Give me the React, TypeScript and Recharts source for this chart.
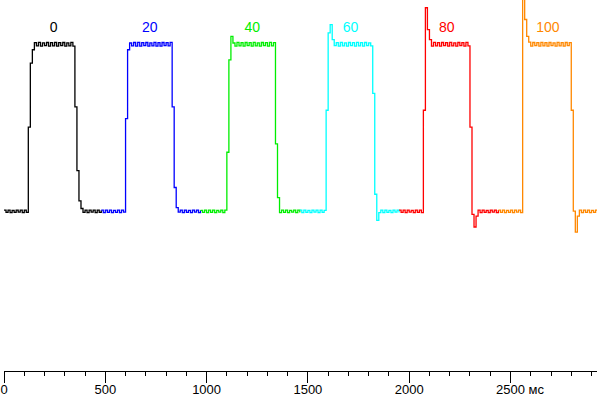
import React from 'react';
import { LineChart, Line, XAxis, YAxis, ReferenceDot } from 'recharts';

// response of one pixel, sampled every 10 ms, brightness in % (0 = start level, 100 = end level)
const SAMPLE_MS = 10;
const pulseStarts = [0, 480, 970, 1460, 1950, 2440];
const pulseLabels = ['0', '20', '40', '60', '80', '100'];
const pulseColors = ['#000000', '#0000ff', '#00ee00', '#00ffff', '#ff0000', '#ff8800'];

const black = [
  0.5, -0.8, 0.6, -0.9, 0.4, -0.8, 0.6, -0.7, 0.5, -0.9, 0.6, -0.8,
  50, 88, 96,
  100.2, 98.3, 100.4, 98.1, 100.1, 98.4, 100.3, 98.2, 100.2, 98.3, 100.4, 98.1, 100.2, 98.4, 100.3, 98.2, 100.1, 98.3, 100.4, 98.2,
  62, 24, 6, 1.5,
  -0.8, 0.6, -0.9, 0.5, -0.7, 0.6, -0.9, 0.5, -0.8, 0.4,
];
const blue = [
  0.5, -0.9, 0.6, -0.8, 0.5, -0.9, 0.4, -0.8, 0.6, -0.9, 0.5, -0.7,
  55, 96, 100,
  98.3, 100.3, 98.2, 100.4, 98.1, 100.2, 98.4, 100.3, 98.2, 100.1, 98.3, 100.4, 98.2, 100.2, 98.1, 100.3, 98.4, 100.2, 98.3, 100.4,
  62, 14, 2,
  -0.6, 0.5, -0.9, 0.6, -0.8, 0.4, -0.9, 0.6, -0.7, 0.5, -0.9, 0.4,
];
const green = [
  0.4, -0.8, 0.6, -0.9, 0.5, -0.8, 0.6, -0.9, 0.4, -0.7, 0.6, -0.9, 0.5,
  35, 90, 104, 100,
  98.2, 100.4, 98.3, 100.2, 98.1, 100.3, 98.4, 100.2, 98.2, 100.4, 98.3, 100.1, 98.2, 100.3, 98.4, 100.2, 98.1, 100.4, 98.3, 100.2,
  40, 8,
  -0.9, 0.5, -0.8, 0.6, -0.9, 0.4, -0.7, 0.6, -0.9, 0.5, -0.8,
];
const cyan = [
  0.5, -0.9, 0.6, -0.8, 0.4, -0.9, 0.6, -0.7, 0.5, -0.9, 0.6, -0.8, 0.4,
  60, 106, 111, 102,
  98.4, 100.2, 98.2, 100.4, 98.3, 100.1, 98.2, 100.3, 98.4, 100.2, 98.1, 100.4, 98.3, 100.2, 98.2, 100.3, 98.4, 100.1, 98.3,
  70, 10, -5.5, -1,
  0.5, -0.9, 0.6, -0.8, 0.4, -0.9, 0.6, -0.7, 0.5, -0.8,
];
const red = [
  0.6, -0.8, 0.5, -0.9, 0.6, -0.7, 0.4, -0.9, 0.6, -0.8, 0.5, -0.9,
  60, 121, 108, 102,
  98.2, 100.4, 98.3, 100.2, 98.1, 100.3, 98.4, 100.2, 98.2, 100.4, 98.3, 100.1, 98.2, 100.3, 98.4, 100.2, 98.1, 100.4, 98.3,
  50, -2, -9.5, -3,
  0.5, -0.9, 0.6, -0.8, 0.4, -0.9, 0.6, -0.7, 0.5, -0.9, 0.6,
];
const orange = [
  0.5, -0.8, 0.6, -0.9, 0.4, -0.8, 0.6, -0.9, 0.5, -0.7, 0.6, -0.9,
  128, 114, 104, 100.5,
  98.2, 100.3, 98.4, 100.2, 98.1, 100.4, 98.3, 100.2, 98.2, 100.3, 98.4, 100.1, 98.2, 100.4, 98.3, 100.2, 98.1, 100.3, 98.4, 100.2,
  60, 0, -12.5, -3,
  0.6, -0.9, 0.5, -0.8, 0.6, -0.9, 0.4, -0.8, 0.6, -0.9,
];

const pulses = [black, blue, green, cyan, red, orange];

const xTicks = [
  0, 100, 200, 300, 400, 500, 600, 700, 800, 900, 1000, 1100, 1200, 1300, 1400,
  1500, 1600, 1700, 1800, 1900, 2000, 2100, 2200, 2300, 2400, 2500, 2600, 2700, 2800, 2900,
];
const unitLabel = 'мс';

const series = pulses.map((vals, k) =>
  vals.map((v, i) => ({ t: pulseStarts[k] + i * SAMPLE_MS, v }))
);

// label sits over the middle of each plateau
const labelTimes = pulses.map((vals, k) => {
  const first = vals.findIndex((v) => v > 50);
  let last = first;
  vals.forEach((v, i) => { if (v > 50) last = i; });
  return pulseStarts[k] + ((first + last) / 2) * SAMPLE_MS + SAMPLE_MS / 2;
});

const FONT = "'Liberation Sans Narrow', 'Liberation Sans', Arial, sans-serif";

const AxisTick = (props: any) => {
  const { x, y, payload } = props;
  const v = payload.value;
  const major = v % 500 === 0;
  return (
    <g>
      <line x1={x} y1={y} x2={x} y2={y + (major ? 12 : 5)} stroke="#000" strokeWidth={1} shapeRendering="crispEdges" />
      {major && (
        <text x={x} y={y + 23} textAnchor="middle" fontSize={13} fontFamily={FONT} fill="#000">
          {v}
        </text>
      )}
      {v === 2500 && (
        <text x={x + 18} y={y + 23} textAnchor="start" fontSize={13} fontFamily={FONT} fill="#000">
          {unitLabel}
        </text>
      )}
    </g>
  );
};

export default function App() {
  return (
    <div style={{ position: 'absolute', left: 0, top: 0, width: 597, height: 396, background: '#fff' }}>
      <LineChart width={597} height={396} margin={{ top: 0, right: 0, left: 4, bottom: 0 }}>
        <XAxis
          dataKey="t"
          type="number"
          domain={[0, 2927]}
          allowDataOverflow
          ticks={xTicks}
          interval={0}
          tickLine={false}
          tickSize={0}
          tickMargin={0}
          axisLine={{ stroke: '#000', strokeWidth: 1, shapeRendering: 'crispEdges' }}
          height={25}
          tick={<AxisTick />}
        />
        <YAxis hide type="number" width={0} domain={[-95.2, 125.6]} allowDataOverflow />
        {series.map((data, k) => (
          <Line
            key={k}
            data={data}
            dataKey="v"
            type="stepAfter"
            stroke={pulseColors[k]}
            strokeWidth={1.3}
            dot={false}
            activeDot={false}
            isAnimationActive={false}
          />
        ))}
        {pulseLabels.map((lab, k) => (
          <ReferenceDot
            key={lab}
            x={labelTimes[k]}
            y={109.5}
            r={0}
            fill="none"
            stroke="none"
            label={{ value: lab, position: 'center', fill: pulseColors[k], fontSize: 14, fontFamily: FONT }}
          />
        ))}
      </LineChart>
    </div>
  );
}
